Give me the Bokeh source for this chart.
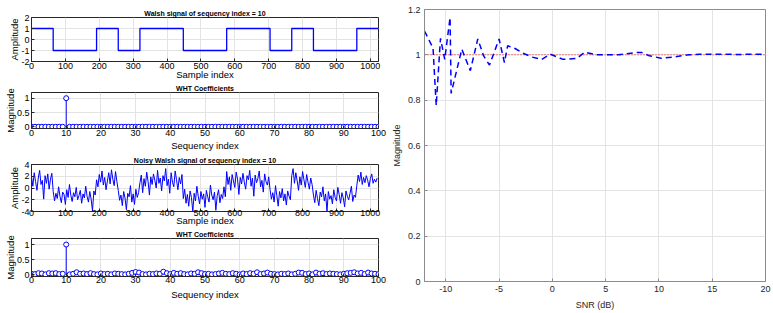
from bokeh.plotting import figure
from bokeh.layouts import row, column
from bokeh.models import Range1d, FixedTicker, CustomJSTickFormatter
from bokeh.embed import file_html
from bokeh.resources import INLINE

# ---------------- data ----------------
walsh_edges = [0, 64, 192, 256, 320, 448, 576, 704, 768, 832, 960, 1024]
walsh_levels = [1, -1, 1, -1, 1, -1, 1, -1, 1, -1, 1]

seq_index = list(range(0, 101))
wht_clean = [0.0] * 10 + [1.0] + [0.0] * 90

noisy_step = 4
noisy_signal = [
    1.9, 0.3, 2.6, 1.1, -0.4, 1.7, 3.0, 0.6, 1.3, -1.9, 2.1, 0.8, 2.4, -0.2, 1.5, 2.5,
    -0.6, -2.2, -0.9, -1.8, 0.2, -1.4, -2.5, -0.7, -1.1, -2.8, -0.3, -1.6, 0.6, -1.2, -2.3, -0.8,
    -1.5, 0.1, -2.0, -1.3, -0.4, -2.6, -1.0, -1.7, 0.3, -1.4, -2.4, -0.6, -1.9, -3.9, -0.5, -1.2,
    1.4, 0.2, 2.3, 1.0, 2.9, 0.5, 1.8, -0.3, 1.2, 2.6, 0.7, 3.1, 1.5, 0.4, 2.8, 1.1,
    -0.4, -2.1, -1.2, -3.0, -0.6, -1.7, -3.7, -0.9, -1.5, 0.4, -2.4, -1.0, -2.8, -0.2, -1.6, -0.8,
    0.9, 2.2, -0.8, 1.6, 0.3, 2.7, 1.1, -1.2, 1.9, 0.6, 2.4, 1.3, 0.0, 3.0, 0.8, 1.7,
    -0.5, 2.1, 1.2, 3.3, 0.4, 1.5, -0.9, 2.6, 1.0, 0.2, 2.9, 1.4, -0.3, 1.8, 0.7, 2.3,
    -1.8, -0.2, -2.6, -1.1, -3.1, -0.5, -1.6, -4.0, -0.9, -2.2, 0.3, -1.4, -2.7, -0.6, -1.9, -1.0,
    -3.3, -0.4, -1.5, -2.4, 0.5, -1.2, -2.0, -0.7, -3.8, -1.3, -0.3, -2.5, -1.1, -1.8, 0.2, -1.5,
    2.8, 0.6, 1.9, -0.4, 2.3, 1.2, 0.1, 2.7, 1.5, -1.1, 1.8, 0.7, 2.5, 1.0, -0.2, 2.1,
    1.4, 3.0, 0.3, 1.7, -1.4, 2.2, 0.9, 1.6, 2.9, 0.2, 1.3, -0.7, 2.4, 1.1, 0.5, 1.9,
    -0.3, -1.9, -0.8, -2.4, 0.4, -1.3, -3.1, -0.6, -1.7, -0.1, -2.2, -1.0, -2.9, -0.5, -1.4, -2.0,
    2.1, 3.3, 0.8, 2.6, 1.2, -0.4, 1.9, 0.5, 2.8, 1.4, 0.1, 2.3, 1.0, -0.2, 1.7, 0.6,
    -1.2, -2.5, -0.4, -1.8, -3.0, -0.7, -1.5, 0.2, -2.2, -1.0, -4.0, -0.6, -1.9, -1.3, -2.7, -0.3,
    -1.6, -2.2, 0.1, -1.1, -2.6, -0.8, -1.7, -3.2, -0.5, -1.4, -2.0, -0.9, 0.3, -2.3, -1.2, -1.6,
    0.4, 2.2, 1.1, 2.7, 0.6, 1.8, 0.9, 2.1, 1.3, 0.2, 1.6, 2.4, 0.8, 1.5, 1.0, 1.7,
]

wht_noisy = [
    0.03, 0.02, 0.05, 0.04, 0.01, 0.05, 0.04, 0.05, 0.02, 0.03,
    1.00, 0.01, 0.03, 0.08, 0.03, 0.04, 0.02, 0.05, 0.02, 0.01,
    0.04, 0.02, 0.03, 0.01, 0.04, 0.03, 0.02, 0.01, 0.03, 0.06,
    0.09, 0.07, 0.02, 0.01, 0.03, 0.02, 0.04, 0.03, 0.10, 0.05,
    0.02, 0.06, 0.03, 0.05, 0.02, 0.01, 0.04, 0.03, 0.08, 0.05,
    0.02, 0.03, 0.01, 0.02, 0.04, 0.06, 0.03, 0.02, 0.05, 0.03,
    0.01, 0.04, 0.02, 0.05, 0.03, 0.08, 0.02, 0.04, 0.07, 0.03,
    0.02, 0.01, 0.03, 0.02, 0.04, 0.01, 0.03, 0.07, 0.06, 0.02,
    0.04, 0.01, 0.07, 0.03, 0.05, 0.02, 0.04, 0.03, 0.02, 0.01,
    0.03, 0.05, 0.06, 0.08, 0.04, 0.06, 0.02, 0.07, 0.04, 0.03,
    0.02,
]

snr_db = [-12, -11.2, -10.9, -10.5, -10.1, -9.6, -9.5, -8.5, -7.7, -7.0, -6.45, -5.9,
          -5.0, -4.5, -4.2, -3.5, -2.8, -1.9, -1.0, -0.2, 1.0, 2.3, 3.05, 4.1, 6.2,
          7.9, 8.4, 9.1, 10.2, 11.3, 12.8, 13.8, 15, 16, 17, 18, 19, 20]
snr_mag = [1.105, 1.03, 0.776, 1.073, 0.98, 1.165, 0.83, 1.025, 0.93, 1.07, 0.995, 0.955,
           1.07, 0.966, 1.04, 1.028, 1.008, 0.99, 0.98, 1.003, 0.98, 0.984, 1.012, 1.0, 1.0,
           1.01, 1.01, 0.996, 0.985, 0.99, 1.0, 1.003, 1.002, 1.003, 1.002, 1.002, 1.003, 1.002]
ref_level = [1.0, 1.0]
ref_snr = [-12, 20]

sample_ticks = [0, 100, 200, 300, 400, 500, 600, 700, 800, 900, 1000]
seq_ticks = [0, 10, 20, 30, 40, 50, 60, 70, 80, 90, 100]
amp_ticks = [-2, -1, 0, 1, 2]
noisy_ticks = [-4, -2, 0, 2, 4]
mag_ticks = [0, 0.5, 1]
snr_ticks = [-10, -5, 0, 5, 10, 15, 20]
snr_mag_ticks = [0, 0.2, 0.4, 0.6, 0.8, 1.0, 1.2]

# ---------------- styling helpers ----------------
FONT = "Liberation Sans"
BLUE = "#0000ff"
fmt_code = "return String(Math.round(tick*1000)/1000);"


def setup(p, xticks, yticks, xlabel, ylabel, text_color="black", frame_color="#262626",
          tick_fs="9px", label_fs="9.5px", xl_standoff=1, xa_standoff=0, yl_standoff=2,
          ya_standoff=-2):
    xt = FixedTicker(ticks=xticks)
    yt = FixedTicker(ticks=yticks)
    p.xaxis.ticker = xt
    p.yaxis.ticker = yt
    p.xgrid.ticker = xt
    p.ygrid.ticker = yt
    for ax in (p.xaxis, p.yaxis):
        ax.formatter = CustomJSTickFormatter(code=fmt_code)
        ax.major_label_text_font = FONT
        ax.major_label_text_font_size = tick_fs
        ax.major_label_text_color = text_color
        ax.axis_label_text_font = FONT
        ax.axis_label_text_font_size = label_fs
        ax.axis_label_text_font_style = "normal"
        ax.axis_label_text_color = text_color
        ax.axis_line_color = frame_color
        ax.major_tick_line_color = frame_color
        ax.major_tick_in = 3
        ax.major_tick_out = 0
        ax.minor_tick_line_color = None
    p.xaxis.axis_label = xlabel
    p.yaxis.axis_label = ylabel
    p.xaxis.major_label_standoff = xl_standoff
    p.xaxis.axis_label_standoff = xa_standoff
    p.yaxis.major_label_standoff = yl_standoff
    p.yaxis.axis_label_standoff = ya_standoff
    p.grid.grid_line_color = "#e3e3e3"
    p.grid.grid_line_width = 1
    p.outline_line_color = frame_color
    p.outline_line_width = 1
    p.background_fill_color = "white"
    p.border_fill_color = "white"
    if p.title is not None and p.title.text:
        p.title.text_font = FONT
        p.title.text_font_size = "7px"
        p.title.text_font_style = "bold"
        p.title.text_color = "black"
        p.title.align = "center"
        p.title.standoff = 1
        p.title.offset = 0


LW = 388  # left column width


def left_fig(title, height, xr, yr, top, bottom):
    return figure(width=LW, height=height, title=title, x_range=Range1d(*xr),
                  y_range=Range1d(*yr), output_backend="svg", toolbar_location=None,
                  min_border_left=31, min_border_right=10, min_border_top=top,
                  min_border_bottom=bottom)


# Panel 1: Walsh signal
p1 = left_fig("Walsh signal of sequency index = 10", 82, (0, 1024), (-2, 2), 17, 19)
p1.step(x=walsh_edges, y=walsh_levels + [walsh_levels[-1]], mode="after",
        line_color=BLUE, line_width=1.3)
setup(p1, sample_ticks, amp_ticks, "Sample index", "Amplitude", xl_standoff=1, xa_standoff=-3)

# Panel 2: WHT coefficients (clean)
p2 = left_fig("WHT Coefficients", 71, (0, 100), (-0.06, 1.2), 9, 23)
p2.segment(x0=seq_index, y0=[0] * len(seq_index), x1=seq_index, y1=wht_clean,
           line_color=BLUE, line_width=1)
p2.scatter(x=seq_index, y=wht_clean, marker="circle", size=5, fill_color="white",
           line_color=BLUE, line_width=1)
setup(p2, seq_ticks, mag_ticks, "Sequency index", "Magnitude", xl_standoff=1, xa_standoff=1)

# Panel 3: noisy Walsh signal
p3 = left_fig("Noisy Walsh signal of sequency index = 10", 75, (0, 1024), (-4, 4), 11, 16)
p3.line(x=[i * noisy_step for i in range(len(noisy_signal))], y=noisy_signal,
        line_color=BLUE, line_width=1)
setup(p3, sample_ticks, noisy_ticks, "Sample index", "Amplitude", xl_standoff=-2, xa_standoff=-4)

# Panel 4: WHT coefficients (noisy)
p4 = left_fig("WHT Coefficients", 85, (0, 100), (-0.06, 1.2), 10, 37)
p4.segment(x0=seq_index, y0=[0] * len(seq_index), x1=seq_index, y1=wht_noisy,
           line_color=BLUE, line_width=1)
p4.scatter(x=seq_index, y=wht_noisy, marker="circle", size=5, fill_color="white",
           line_color=BLUE, line_width=1)
setup(p4, seq_ticks, mag_ticks, "Sequency index", "Magnitude", xl_standoff=0, xa_standoff=3)

# Right: magnitude vs SNR
pr = figure(width=385, height=313, x_range=Range1d(-12, 20), y_range=Range1d(0, 1.2),
            output_backend="svg", toolbar_location=None, min_border_left=32,
            min_border_right=8, min_border_top=9, min_border_bottom=32)
pr.line(x=ref_snr, y=ref_level, line_color="#ff0000", line_width=1, line_dash="1 2")
pr.line(x=snr_db, y=snr_mag, line_color=BLUE, line_width=1.5, line_dash="6 4")
setup(pr, snr_ticks, snr_mag_ticks, "SNR (dB)", "Magnitude", text_color="#262626",
      frame_color="#8c8c8c", tick_fs="9px", label_fs="9px", xl_standoff=4, xa_standoff=5,
      yl_standoff=4, ya_standoff=3)

layout = row(column(p1, p2, p3, p4), pr)

open("out.html", "w").write(file_html(layout, INLINE))
